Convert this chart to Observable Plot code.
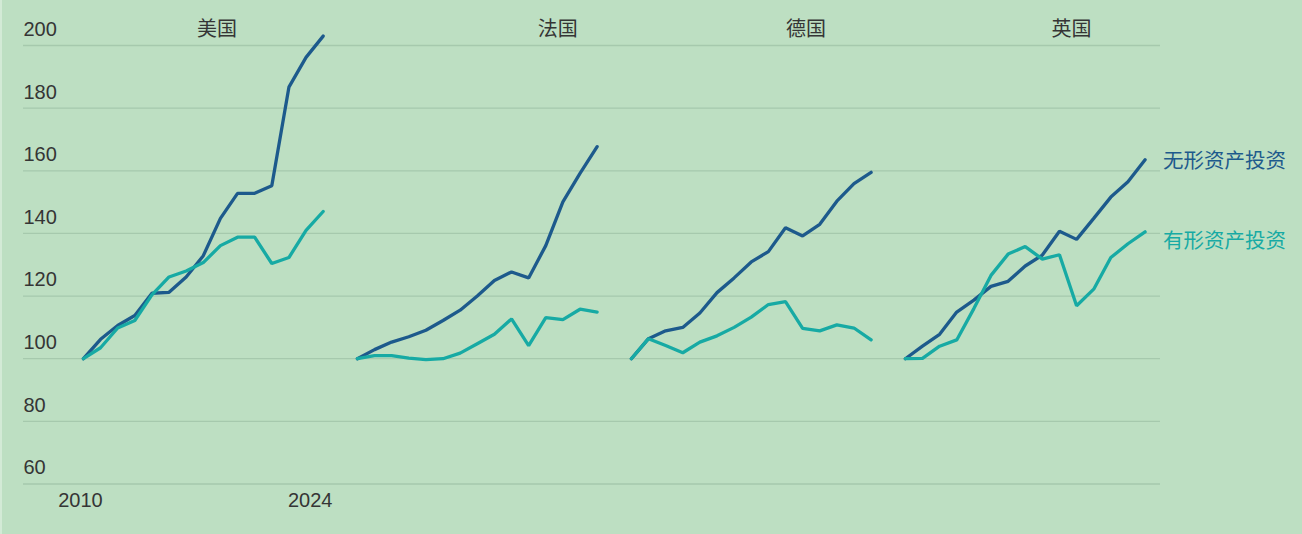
<!DOCTYPE html>
<html><head><meta charset="utf-8">
<script src="https://cdn.jsdelivr.net/npm/d3@7"></script>
<script src="https://cdn.jsdelivr.net/npm/@observablehq/plot@0.6"></script>
<style>
html,body{margin:0;padding:0;background:#bddfc2;}
#chart{width:1302px;height:534px;position:relative;overflow:hidden;box-sizing:border-box;border-left:2px solid #d3ead6;}
</style></head><body><div id="chart"></div>
<script>
const years = [2010,2011,2012,2013,2014,2015,2016,2017,2018,2019,2020,2021,2022,2023,2024];
const countries = ["美国","法国","德国","英国"];
const seriesNames = ["无形资产投资","有形资产投资"];

const usIntangible = [100,106.2,110.6,113.8,120.9,121.2,126.1,132.9,144.8,152.8,152.8,155.2,186.7,196.2,203];
const usTangible   = [100,103.5,109.8,112.2,120.4,126.1,128,130.7,136.1,138.8,138.8,130.4,132.3,141,147];
const frIntangible = [100,102.9,105.3,107,109.1,112.2,115.5,120,125,127.7,125.8,136.1,150.1,159.2,167.7];
const frTangible   = [100,101,101,100.2,99.7,100,101.8,104.8,107.8,112.7,104.2,113.1,112.5,115.8,114.9];
const deIntangible = [100,106.4,108.9,110,114.6,121.1,125.8,130.9,134.2,141.8,139.2,142.9,150.3,155.9,159.5];
const deTangible   = [100,106.4,104.2,101.9,105.3,107.3,110,113.3,117.3,118.2,109.7,108.9,110.8,109.8,106];
const ukIntangible = [100,104,107.8,114.9,118.7,123.1,124.7,129.6,133.1,140.7,138.1,144.8,151.6,156.5,163.5];
const ukTangible   = [100,100.1,104,106,116,126.6,133.4,135.8,131.8,133.2,116.9,122.2,132.3,136.7,140.5];

const yTicks = [60,80,100,120,140,160,180,200];
const xTickLabels = [2010, 2024];

const seriesByCountry = [
  [usIntangible, usTangible],
  [frIntangible, frTangible],
  [deIntangible, deTangible],
  [ukIntangible, ukTangible]
];

// layout constants
const panelGap = 16;               // panel spacing in year units
const titleAt = [2017.8, 2021.7, 2020.2, 2019.7];
const dark = "#1d5a8c", teal = "#17aaa4";
const ink = "#353535";

const rows = seriesByCountry.flatMap((pair, ci) =>
  pair.flatMap((vals, si) => vals.map((v, k) => ({
    country: countries[ci], ci, series: seriesNames[si], year: years[k], value: v
  })))
);
const xi = d => d.ci * panelGap + (d.year - years[0]);

const lastUK = seriesNames.map((s, si) => ({
  series: s, ci: 3, year: years[years.length - 1],
  value: seriesByCountry[3][si][years.length - 1]
}));

const chart = Plot.plot({
  width: 1300, height: 534,
  marginLeft: 21, marginRight: 142, marginTop: 45, marginBottom: 50.5,
  style: {background: "transparent", fontFamily: "'Liberation Sans','Noto Sans CJK SC',sans-serif", overflow: "visible"},
  x: {domain: [-3.5, 62.9], axis: null},
  y: {domain: [60, 200], axis: null},
  color: {domain: seriesNames, range: [dark, teal]},
  marks: [
    Plot.ruleY(yTicks, {stroke: "#a6c9ad", strokeWidth: 1.3}),
    Plot.text(yTicks, {y: d => d, frameAnchor: "left", textAnchor: "start", lineAnchor: "middle", dy: -16, text: d => String(d), fontSize: 20, fill: ink}),
    Plot.text([xTickLabels[0]], {x: d => d - years[0], frameAnchor: "bottom", lineAnchor: "middle", dy: 17, dx: -3, text: d => String(d), fontSize: 20, fill: ink}),
    Plot.text([xTickLabels[1]], {x: d => d - years[0], frameAnchor: "bottom", lineAnchor: "middle", dy: 17, dx: -13, text: d => String(d), fontSize: 20, fill: ink}),
    Plot.text(countries, {x: (d, i) => i * panelGap + (titleAt[i] - years[0]), frameAnchor: "top", lineAnchor: "middle", dy: -16, text: d => d, fontSize: 20, fill: ink}),
    Plot.line(rows, {x: xi, y: "value", z: d => d.country + d.series, stroke: "series", strokeWidth: 3.3, strokeLinejoin: "miter", strokeLinecap: "round"}),
    Plot.text([lastUK[0]], {x: xi, y: "value", text: "series", fill: "series", textAnchor: "start", lineAnchor: "middle", dx: 18, dy: 2, fontSize: 20.5}),
    Plot.text([lastUK[1]], {x: xi, y: "value", text: "series", fill: "series", textAnchor: "start", lineAnchor: "middle", dx: 18, dy: 10, fontSize: 20.5})
  ]
});
document.getElementById("chart").appendChild(chart);
</script>
</body></html>
